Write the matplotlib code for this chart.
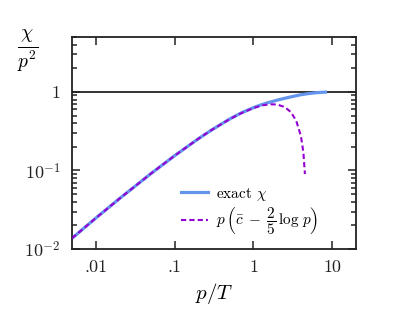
import numpy as np
import matplotlib
matplotlib.use("Agg")
import matplotlib.pyplot as plt
from matplotlib.ticker import FixedLocator, FixedFormatter, LogLocator, NullFormatter

plt.rcParams['font.family'] = 'serif'
plt.rcParams['font.serif'] = ['cmr10', 'DejaVu Serif']
plt.rcParams['mathtext.fontset'] = 'cm'
plt.rcParams['axes.unicode_minus'] = False

# exact chi / p^2
p_exact = [0.005, 0.01, 0.02, 0.05, 0.1, 0.2, 0.3, 0.5, 0.7, 1.0, 1.2, 1.5,
           2.0, 2.5, 3.0, 4.0, 5.0, 6.0, 7.0, 8.2]
chi_exact = [0.0137, 0.0247, 0.0438, 0.091, 0.154, 0.253, 0.331, 0.452, 0.54,
             0.63, 0.675, 0.725, 0.785, 0.83, 0.865, 0.92, 0.952, 0.972,
             0.985, 0.993]

# small-p approximation p(cbar - 2/5 log p)
p_approx = [0.005, 0.01, 0.02, 0.05, 0.1, 0.2, 0.3, 0.5, 0.7, 1.0, 1.3, 1.6,
            2.0, 2.5, 3.0, 3.5, 4.0, 4.3, 4.5]
chi_approx = [0.0137, 0.0247, 0.0438, 0.091, 0.154, 0.253, 0.331, 0.450,
              0.536, 0.623, 0.674, 0.696, 0.691, 0.641, 0.551, 0.426, 0.274,
              0.171, 0.09]

xticks = [0.01, 0.1, 1, 10]
xticklabels = ['.01', '.1', '1', '10']
yticks = [0.01, 0.1, 1]
yticklabels = [r'$10^{-2}$', r'$10^{-1}$', r'$1$']

fig = plt.figure(figsize=(3.93, 3.22), dpi=100)
ax = fig.add_axes([72/393, 1 - 249/322, (356-72)/393, (249-37)/322])

ax.axhline(1, color='#222222', lw=1.3, zorder=1)
ax.plot(p_exact, chi_exact, color='#6495ED', lw=2.3, label=r'exact $\chi$', zorder=2)
ax.plot(p_approx, chi_approx, color='#9400D3', lw=1.5, ls=(0, (2.5, 1.5)),
        label=r'$p\,\left(\bar{c}\;-\;\dfrac{2}{5}\,\log\,p\right)$', zorder=3)

ax.set_xscale('log')
ax.set_yscale('log')
ax.set_xlim(0.005, 20)
ax.set_ylim(0.01, 5)

ax.xaxis.set_major_locator(FixedLocator(xticks))
ax.xaxis.set_major_formatter(FixedFormatter(xticklabels))
ax.xaxis.set_minor_locator(FixedLocator([]))
ax.yaxis.set_major_locator(FixedLocator(yticks))
ax.yaxis.set_major_formatter(FixedFormatter(yticklabels))
ax.yaxis.set_minor_locator(LogLocator(base=10, subs=np.arange(2, 10), numticks=20))
ax.yaxis.set_minor_formatter(NullFormatter())

ax.tick_params(which='both', direction='in', top=True, right=True, width=1.1,
               labelsize=13, colors='#222222')
ax.tick_params(which='major', length=6, pad=8)
ax.tick_params(which='minor', length=3.5)
for s in ax.spines.values():
    s.set_linewidth(1.3)
    s.set_color('#222222')

ax.set_xlabel(r'$p/T$', fontsize=15, labelpad=4)
fig.text(28/393, 1 - 51/322, r'$\frac{\chi}{p^2}$', fontsize=20, ha='center', va='center')

ax.legend(loc='lower right', bbox_to_anchor=(0.915, -0.01), frameon=False, fontsize=11,
          handlelength=1.8, handletextpad=0.5, labelspacing=0.25)

fig.savefig('out.png', dpi=100)
